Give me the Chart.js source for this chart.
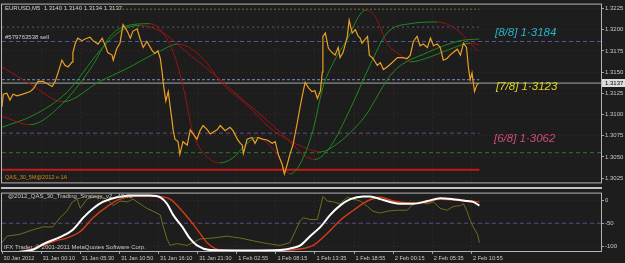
<!DOCTYPE html>
<html>
<head>
<meta charset="UTF-8">
<title>EURUSD,M5</title>
<script src="https://cdn.jsdelivr.net/npm/chart.js"></script>
<style>
  html, body { margin: 0; padding: 0; background: #1d1d1d; }
  #wrap { position: relative; width: 625px; height: 263px; overflow: hidden; }
  #main { position: absolute; left: 0; top: 0; }
  #sub { position: absolute; left: 0; top: 189px; }
  #sep { position: absolute; left: 1px; top: 187px; width: 601px; height: 2px; background: #c4c4c4; }
</style>
</head>
<body>
<div id="wrap">
  <canvas id="main" width="625" height="187"></canvas>
  <div id="sep"></div>
  <canvas id="sub" width="625" height="74"></canvas>
</div>
<script>
// time axis: one label every 64 M5 bars
const timeLabels = ['30 Jan 2012', '31 Jan 00:10', '31 Jan 05:30', '31 Jan 10:50', '31 Jan 16:10', '31 Jan 21:30',
  '1 Feb 02:55', '1 Feb 08:15', '1 Feb 13:35', '1 Feb 18:55', '2 Feb 00:15', '2 Feb 05:35', '2 Feb 10:55'];
const barsPerLabel = 64;
const lastBar = 980;

const priceTicks = [1.3025, 1.3050, 1.3075, 1.3100, 1.3125, 1.3150, 1.3175, 1.3200, 1.3225];
const oscTicks = [0, -50, -100];
const lastPrice = 1.3137;

// close prices (bar index, price)
const priceBars = [0,2,8,13,18,25,34,46,51,59,
  67,75,82,87,92,98,103,108,115,116,
  120,124,131,136,144,149,157,164,169,173,
  180,182,188,193,198,205,210,214,221,226,
  231,237,246,250,255,259,262,264,268,272,
  275,278,280,283,288,291,296,303,308,313,
  319,324,329,336,341,345,352,357,365,373,
  378,385,390,393,395,401,409,414,419,426,
  434,442,447,452,458,462,467,471,476,483,
  488,493,496,501,507,512,516,521,524,525,
  529,534,540,545,550,553,558,565,568,573,
  578,583,586,589,598,601,607,614,619,624,
  630,638,647,655,663,668,673,679,684,689,
  696,701,706,712,717,722,728,733,738,745,
  750,755,760,763,766,769,771,773,777,780];
const priceVals = [1.3109,1.3124,1.3125,1.3117,1.3124,1.3122,1.3124,1.3127,1.3130,1.3139,
  1.3139,1.3136,1.3133,1.3139,1.3150,1.3164,1.3158,1.3156,1.3162,1.3173,
  1.3184,1.3190,1.3187,1.3189,1.3191,1.3187,1.3183,1.3190,1.3181,1.3173,
  1.3170,1.3164,1.3178,1.3184,1.3206,1.3198,1.3190,1.3198,1.3201,1.3189,
  1.3179,1.3186,1.3175,1.3172,1.3175,1.3166,1.3150,1.3136,1.3116,1.3127,
  1.3110,1.3094,1.3082,1.3071,1.3068,1.3053,1.3068,1.3064,1.3082,1.3077,
  1.3071,1.3081,1.3087,1.3082,1.3077,1.3079,1.3082,1.3087,1.3081,1.3085,
  1.3081,1.3071,1.3066,1.3064,1.3054,1.3071,1.3073,1.3066,1.3073,1.3071,
  1.3070,1.3066,1.3068,1.3053,1.3042,1.3030,1.3042,1.3053,1.3064,1.3090,
  1.3110,1.3128,1.3138,1.3132,1.3127,1.3128,1.3119,1.3128,1.3150,1.3192,
  1.3196,1.3178,1.3173,1.3170,1.3179,1.3167,1.3173,1.3192,1.3211,1.3196,
  1.3200,1.3192,1.3190,1.3184,1.3192,1.3170,1.3166,1.3158,1.3161,1.3153,
  1.3156,1.3161,1.3167,1.3167,1.3166,1.3170,1.3186,1.3192,1.3181,1.3183,
  1.3179,1.3190,1.3181,1.3183,1.3179,1.3164,1.3166,1.3170,1.3173,1.3177,
  1.3170,1.3184,1.3179,1.3156,1.3141,1.3149,1.3138,1.3127,1.3135,1.3137];

// moving averages
const fastBars = [0,46,95,144,177,201,242,270,286,300,311,324,341,357,378,398,417,447,471,488,509,525,542,565,586,596,611,630,652,668,701,733,766,781];
const fastVals = [1.3098,1.3088,1.3110,1.3153,1.3192,1.3204,1.3207,1.3189,1.3161,1.3121,1.3082,1.3060,1.3047,1.3043,1.3049,1.3064,1.3073,1.3056,1.3030,1.3042,1.3082,1.3132,1.3161,1.3189,1.3218,1.3223,1.3215,1.3184,1.3170,1.3162,1.3168,1.3177,1.3184,1.3182];
const midBars = [0,51,106,160,193,226,259,308,357,398,439,471,496,512,537,570,602,630,668,712,742,778];
const midVals = [1.3085,1.3099,1.3126,1.3175,1.3198,1.3205,1.3198,1.3170,1.3141,1.3115,1.3090,1.3068,1.3051,1.3047,1.3062,1.3107,1.3158,1.3196,1.3207,1.3209,1.3201,1.3175];
const slowBars = [0,46,100,160,201,259,288,329,357,398,444,499,521,553,581,594,640,696,750,781];
const slowVals = [1.3156,1.3136,1.3115,1.3139,1.3153,1.3175,1.3183,1.3166,1.3139,1.3113,1.3081,1.3060,1.3056,1.3068,1.3087,1.3098,1.3150,1.3173,1.3187,1.3189];

// horizontal levels (price, first bar, last bar)
const levelVals = [1.3224, 1.3203, 1.3186, 1.3141, 1.3137, 1.3078, 1.3055, 1.3035];
const levelFrom = [190, 0, 0, 0, 0, 0, 0, 0];
const levelTo = [781, 781, 980, 781, 980, 781, 980, 781];

// oscillator window
const oliveBars = [0,8,29,51,67,83,95,106,115,123,
  128,139,149,160,172,182,193,205,214,226,
  237,247,259,264,270,275,286,303,324,345,
  368,390,411,434,455,471,483,488,493,504,
  516,525,532,542,553,565,575,586,598,607,
  619,630,647,663,673,684,696,706,717,728,
  738,750,755,761,766,771,778,781];
const oliveVals = [-92,-78,-74,-64,-58,-58,-38,-24,-4,2,
  -18,2,6,8,2,-12,-2,-4,2,-8,
  -18,-24,-32,-58,-84,-98,-94,-98,-84,-82,
  -78,-82,-88,-94,-98,-92,-58,-44,-38,-42,
  -42,8,-2,-4,-8,6,2,-2,-14,-24,
  -28,-24,-22,-22,-8,-4,-8,-4,-18,-22,
  -14,-12,-8,-24,-44,-58,-74,-92];
const whiteBars = [0,49,69,95,116,133,149,165,188,214,242,259,270,280,295,308,319,341,406,455,480,488,504,521,537,553,570,591,602,619,635,652,673,696,717,738,761,771,781];
const whiteVals = [-114,-108,-94,-80,-64,-38,-18,-4,6,10,10,6,-8,-32,-58,-84,-98,-108,-109,-108,-102,-98,-78,-58,-32,-12,2,8,8,2,-4,-8,-8,-2,4,2,-2,-4,-12];
const redBars = [0,36,62,88,106,128,149,172,193,221,254,275,291,308,324,337,357,422,471,509,532,553,575,598,619,640,668,696,717,738,766,781];
const redVals = [-114,-110,-100,-88,-82,-68,-38,-14,2,8,8,2,-18,-44,-72,-94,-108,-110,-108,-98,-72,-44,-22,-2,6,-2,-6,-4,2,0,-2,-4];
const oscLevels = [-50];

Chart.defaults.font.family = 'Liberation Sans';
Chart.defaults.color = '#c8c8c8';

const gridColor = '#4a2626';
const UP = '#1f8a1f', DOWN = '#9a1414';

function pts(xs, ys) { return xs.map((x, i) => ({ x: x, y: ys[i] })); }

function maSet(xs, ys) {
  return {
    data: pts(xs, ys), borderWidth: 1, pointRadius: 0, borderColor: UP,
    cubicInterpolationMode: 'monotone', order: 1,
    segment: { borderColor: c => c.p1.parsed.y >= c.p0.parsed.y ? UP : DOWN }
  };
}

const levelStyle = [
  { c: '#6e6e30', d: [2, 2], w: 1 },
  { c: '#5c5c7c', d: [2, 3], w: 1 },
  { c: '#4a5aa4', d: [4, 3], w: 1 },
  { c: '#7a8ebc', d: [3, 2], w: 1 },
  { c: '#a8a8a8', d: [], w: 1 },
  { c: '#5e4e88', d: [4, 3], w: 1 },
  { c: '#2e7a2e', d: [4, 3], w: 1 },
  { c: '#c41a1a', d: [], w: 2 }
];
const levelSets = levelVals.map((v, i) => ({
  data: [{ x: levelFrom[i], y: v }, { x: levelTo[i], y: v }],
  borderColor: levelStyle[i].c, borderDash: levelStyle[i].d, borderWidth: levelStyle[i].w,
  pointRadius: 0, order: 2
}));

const setTimeTicks = scale => {
  scale.ticks = timeLabels.map((t, i) => ({ value: i * barsPerLabel }));
};

const frame = {
  id: 'frame',
  afterDraw(chart) {
    const { ctx, chartArea: a } = chart;
    ctx.save();
    ctx.strokeStyle = '#b4b4b4';
    ctx.lineWidth = 1;
    ctx.strokeRect(a.left - 0.5, a.top - 0.5, a.right - a.left + 1, a.bottom - a.top + 1);
    ctx.restore();
  }
};

const mainText = {
  id: 'mainText',
  afterDraw(chart) {
    const { ctx, scales } = chart;
    ctx.save();
    ctx.textBaseline = 'middle';
    ctx.textAlign = 'left';
    ctx.font = '6px "Liberation Sans"';
    ctx.fillStyle = '#cfcfcf';
    ctx.fillText('EURUSD,M5  1.3140 1.3140 1.3134 1.3137', 5, 8);
    ctx.fillText('#579763538 sell', 5, 37);
    ctx.font = '5.5px "Liberation Sans"';
    ctx.fillStyle = '#d88a18';
    ctx.fillText('QAS_30_5M@2012 v-1A', 5, 177);

    ctx.font = 'italic 11.5px "Liberation Sans"';
    ctx.fillStyle = '#28b4c8';
    ctx.fillText('[8/8] 1·3184', 495, 33);
    ctx.fillStyle = '#d8d820';
    ctx.fillText('[7/8] 1·3123', 496, 87);
    ctx.fillStyle = '#d04c7c';
    ctx.fillText('[6/8] 1·3062', 494, 139);

    // current price box on the axis
    const y = scales.y.getPixelForValue(lastPrice);
    ctx.fillStyle = '#dcdcdc';
    ctx.fillRect(602, Math.round(y) - 4, 23, 8);
    ctx.fillStyle = '#000';
    ctx.font = '6px "Liberation Sans"';
    ctx.fillText(lastPrice.toFixed(4), 605, y);
    ctx.restore();
  }
};

const subText = {
  id: 'subText',
  afterDraw(chart) {
    const { ctx } = chart;
    ctx.save();
    ctx.textBaseline = 'middle';
    ctx.font = '6px "Liberation Sans"';
    ctx.fillStyle = '#c8c8c8';
    ctx.fillText('@2012_QAS_30_Trading_Strategy_v2  -48.72', 8, 7);
    ctx.fillText('IFX Trader, © 2001-2011 MetaQuotes Software Corp.', 4, 58);
    ctx.restore();
  }
};

new Chart(document.getElementById('main'), {
  type: 'line',
  data: {
    datasets: [
      { data: pts(priceBars, priceVals), borderColor: '#eaa024', borderWidth: 1.2, pointRadius: 0, order: 0 },
      maSet(fastBars, fastVals),
      maSet(midBars, midVals),
      maSet(slowBars, slowVals),
      ...levelSets
    ]
  },
  options: {
    responsive: false,
    animation: false,
    layout: { padding: { left: 2, top: 2, right: 0, bottom: 0 } },
    plugins: { legend: { display: false }, tooltip: { enabled: false } },
    scales: {
      x: {
        type: 'linear', min: 0, max: lastBar,
        afterBuildTicks: setTimeTicks,
        afterFit: s => { s.height = 0; },
        ticks: { display: false },
        grid: { color: gridColor, drawTicks: false },
        border: { display: false, dash: [1, 3] }
      },
      y: {
        position: 'right', min: 1.3020, max: 1.32295,
        afterBuildTicks: s => { s.ticks = priceTicks.map(v => ({ value: v })); },
        afterFit: s => { s.width = 24; },
        ticks: { font: { size: 6 }, color: '#c8c8c8', padding: 1, callback: v => v.toFixed(4) },
        grid: { color: gridColor, tickColor: '#a0a0a0', tickLength: 3 },
        border: { display: false, dash: [1, 3] }
      }
    }
  },
  plugins: [frame, mainText]
});

new Chart(document.getElementById('sub'), {
  type: 'line',
  data: {
    datasets: [
      { data: pts(whiteBars, whiteVals), borderColor: '#ffffff', borderWidth: 2, pointRadius: 0, cubicInterpolationMode: 'monotone', order: 0 },
      { data: pts(redBars, redVals), borderColor: '#d63c14', borderWidth: 1.4, pointRadius: 0, cubicInterpolationMode: 'monotone', order: 1 },
      { data: pts(oliveBars, oliveVals), borderColor: '#6e6e1e', borderWidth: 1, pointRadius: 0, order: 2 },
      ...oscLevels.map(v => ({
        data: [{ x: 0, y: v }, { x: lastBar, y: v }],
        borderColor: '#5a4a8a', borderDash: [4, 3], borderWidth: 1, pointRadius: 0, order: 3
      }))
    ]
  },
  options: {
    responsive: false,
    animation: false,
    layout: { padding: { left: 2, top: 0, right: 0, bottom: 0 } },
    plugins: { legend: { display: false }, tooltip: { enabled: false } },
    scales: {
      x: {
        type: 'linear', min: 0, max: lastBar,
        afterBuildTicks: setTimeTicks,
        afterFit: s => { s.height = 12; },
        ticks: { font: { size: 5.6 }, color: '#c8c8c8', align: 'start', maxRotation: 0, autoSkip: false, padding: 1,
          callback: (v, i) => ' ' + timeLabels[i] },
        grid: { color: gridColor, tickColor: '#a0a0a0', tickLength: 3 },
        border: { display: false, dash: [1, 3] }
      },
      y: {
        position: 'right', min: -110, max: 14,
        afterBuildTicks: s => { s.ticks = oscTicks.map(v => ({ value: v })); },
        afterFit: s => { s.width = 24; },
        ticks: { font: { size: 6 }, color: '#c8c8c8', padding: 1 },
        grid: { color: gridColor, tickColor: '#a0a0a0', tickLength: 3 },
        border: { display: false, dash: [1, 3] }
      }
    }
  },
  plugins: [frame, subText]
});
</script>
</body>
</html>
